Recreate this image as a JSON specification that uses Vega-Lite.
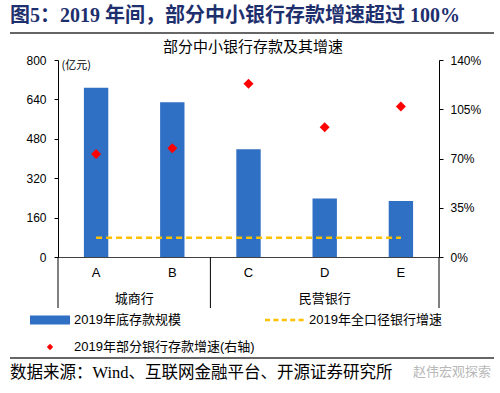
{
  "$schema": "https://vega.github.io/schema/vega-lite/v6.json",
  "width": 381,
  "height": 197,
  "autosize": {"type": "none"},
  "padding": {"left": 58, "top": 60, "right": 61, "bottom": 136},
  "background": "white",
  "config": {
    "view": {"stroke": null},
    "font": "Liberation Sans, Noto Sans CJK SC",
    "axis": {"labelFont": "Liberation Sans, Noto Sans CJK SC", "labelColor": "#000000", "grid": false}
  },
  "title": {
    "text": "图5：2019 年间，部分中小银行存款增速超过 100%",
    "anchor": "start",
    "frame": "group",
    "dx": -48,
    "offset": 6,
    "font": "Liberation Serif, Noto Sans CJK SC",
    "fontSize": 20,
    "fontWeight": "bold",
    "color": "#1E2F6E"
  },
  "datasets": {
    "banks": [
      {"bank": "A", "group": "城商行", "deposit": 687, "growth": 0.732, "allBank": 0.137},
      {"bank": "B", "group": "城商行", "deposit": 628, "growth": 0.772, "allBank": 0.137},
      {"bank": "C", "group": "民营银行", "deposit": 438, "growth": 1.232, "allBank": 0.137},
      {"bank": "D", "group": "民营银行", "deposit": 238, "growth": 0.922, "allBank": 0.137},
      {"bank": "E", "group": "民营银行", "deposit": 227, "growth": 1.07, "allBank": 0.137}
    ]
  },
  "resolve": {"scale": {"y": "independent"}},
  "layer": [
    {
      "data": {"name": "banks"},
      "mark": {"type": "bar", "width": {"band": 0.32}, "color": "#2F6FC4"},
      "encoding": {
        "x": {
          "field": "bank", "type": "nominal",
          "scale": {"paddingInner": 0, "paddingOuter": 0},
          "axis": {
            "title": null, "orient": "bottom", "labelAngle": 0, "ticks": false,
            "domainColor": "#404040", "domainWidth": 1, "labelFontSize": 13, "labelPadding": 9
          }
        },
        "y": {
          "field": "deposit", "type": "quantitative",
          "scale": {"domain": [0, 800], "nice": false},
          "axis": {
            "orient": "left", "values": [0, 160, 320, 480, 640, 800],
            "tickSize": 4, "tickColor": "#000000", "domainColor": "#000000",
            "labelFontSize": 12, "labelPadding": 8,
            "title": "(亿元)", "titleAngle": 0, "titleX": 3, "titleY": 5,
            "titleAlign": "left", "titleBaseline": "middle",
            "titleFontSize": 11, "titleFontWeight": "normal",
            "titleFont": "Noto Sans CJK SC", "titleColor": "#000000"
          }
        }
      }
    },
    {
      "data": {"name": "banks"},
      "layer": [
        {
          "mark": {"type": "line", "strokeDash": [6, 4], "strokeWidth": 2.5, "color": "#FFC000"},
          "encoding": {
            "x": {"field": "bank", "type": "nominal"},
            "y": {
              "field": "allBank", "type": "quantitative",
              "scale": {"domain": [0, 1.4], "nice": false},
              "axis": {
                "orient": "right", "values": [0, 0.35, 0.7, 1.05, 1.4], "format": ".0%",
                "tickSize": 4, "tickColor": "#000000", "domainColor": "#000000",
                "labelFontSize": 12, "labelPadding": 7, "title": null
              }
            }
          }
        },
        {
          "mark": {"type": "point", "filled": true, "size": 3900, "opacity": 1, "strokeWidth": 0},
          "encoding": {
            "x": {"field": "bank", "type": "nominal"},
            "y": {
              "field": "growth", "type": "quantitative",
              "scale": {"domain": [0, 1.4], "nice": false},
              "axis": {
                "orient": "right", "values": [0, 0.35, 0.7, 1.05, 1.4], "format": ".0%",
                "tickSize": 4, "tickColor": "#000000", "domainColor": "#000000",
                "labelFontSize": 12, "labelPadding": 7, "title": null
              }
            },
            "color": {
              "datum": "2019年部分银行存款增速(右轴)",
              "type": "nominal",
              "scale": {
                "domain": ["2019年底存款规模", "2019年全口径银行增速", "2019年部分银行存款增速(右轴)"],
                "range": ["#2F6FC4", "#FFC000", "#FF0000"]
              },
              "legend": {
                "title": null, "orient": "none", "legendX": -28, "legendY": 240,
                "direction": "horizontal",
                "columns": 2, "columnPadding": 10, "rowPadding": -23, "padding": 0,
                "symbolSize": 1600, "symbolStrokeWidth": 0, "symbolOpacity": 1,
                "labelFontSize": 13, "labelOffset": 4, "labelColor": "#000000",
                "labelFont": "Liberation Sans, Noto Sans CJK SC", "labelLimit": 300
              }
            },
            "shape": {
              "datum": "2019年部分银行存款增速(右轴)",
              "type": "nominal",
              "scale": {
                "domain": ["2019年底存款规模", "2019年全口径银行增速", "2019年部分银行存款增速(右轴)"],
                "range": [
                  "M-1,-0.22H1V0.22H-1Z",
                  "M-1,-0.06h0.25v0.12h-0.25zM-0.58,-0.06h0.25v0.12h-0.25zM-0.16,-0.06h0.25v0.12h-0.25zM0.26,-0.06h0.25v0.12h-0.25zM0.68,-0.06h0.25v0.12h-0.25z",
                  "M0,-0.16L0.16,0L0,0.16L-0.16,0Z"
                ]
              }
            }
          }
        }
      ]
    },
    {
      "data": {"values": [{"bank": "A"}, {"bank": "C"}]},
      "mark": {"type": "rule", "color": "#000000", "strokeWidth": 1},
      "encoding": {
        "x": {"field": "bank", "type": "nominal", "bandPosition": 0},
        "y": {"value": 197},
        "y2": {"value": 248}
      }
    },
    {
      "data": {"values": [{"bank": "E"}]},
      "mark": {"type": "rule", "color": "#000000", "strokeWidth": 1},
      "encoding": {
        "x": {"field": "bank", "type": "nominal", "bandPosition": 1},
        "y": {"value": 197},
        "y2": {"value": 248}
      }
    },
    {
      "data": {"values": [{"bank": "A", "label": "城商行"}]},
      "mark": {"type": "text", "fontSize": 13, "font": "Noto Sans CJK SC", "color": "#000000", "baseline": "middle"},
      "encoding": {
        "x": {"field": "bank", "type": "nominal", "bandPosition": 1},
        "y": {"value": 239},
        "text": {"field": "label"}
      }
    },
    {
      "data": {"values": [{"bank": "D", "label": "民营银行"}]},
      "mark": {"type": "text", "fontSize": 13, "font": "Noto Sans CJK SC", "color": "#000000", "baseline": "middle"},
      "encoding": {
        "x": {"field": "bank", "type": "nominal", "bandPosition": 0.5},
        "y": {"value": 239},
        "text": {"field": "label"}
      }
    },
    {
      "data": {"values": [{"label": "部分中小银行存款及其增速"}]},
      "mark": {"type": "text", "fontSize": 15, "font": "Noto Sans CJK SC", "color": "#000000", "baseline": "middle", "align": "center"},
      "encoding": {
        "x": {"value": 195},
        "y": {"value": -13},
        "text": {"field": "label"}
      }
    },
    {
      "data": {"values": [{"line": "top"}]},
      "mark": {"type": "point", "filled": true, "color": "#333333", "opacity": 1, "strokeWidth": 0, "size": 234256, "shape": "M-1,-0.0031H1V0.0031H-1Z"},
      "encoding": {
        "x": {"value": 194},
        "y": {"value": -27}
      }
    },
    {
      "data": {"values": [{"line": "bottom"}]},
      "mark": {"type": "point", "filled": true, "color": "#333333", "opacity": 1, "strokeWidth": 0, "size": 234256, "shape": "M-1,-0.0031H1V0.0031H-1Z"},
      "encoding": {
        "x": {"value": 194},
        "y": {"value": 298}
      }
    },
    {
      "data": {"values": [{"label": "数据来源：Wind、互联网金融平台、开源证券研究所"}]},
      "mark": {"type": "text", "fontSize": 16.5, "font": "Liberation Serif, Noto Sans CJK SC", "color": "#000000", "baseline": "middle", "align": "left"},
      "encoding": {
        "x": {"value": -48},
        "y": {"value": 313},
        "text": {"field": "label"}
      }
    },
    {
      "data": {"values": [{"label": "赵伟宏观探索"}]},
      "mark": {"type": "text", "fontSize": 13, "font": "Noto Sans CJK SC", "color": "#B8B8B8", "baseline": "middle", "align": "left"},
      "encoding": {
        "x": {"value": 355},
        "y": {"value": 312},
        "text": {"field": "label"}
      }
    }
  ]
}
